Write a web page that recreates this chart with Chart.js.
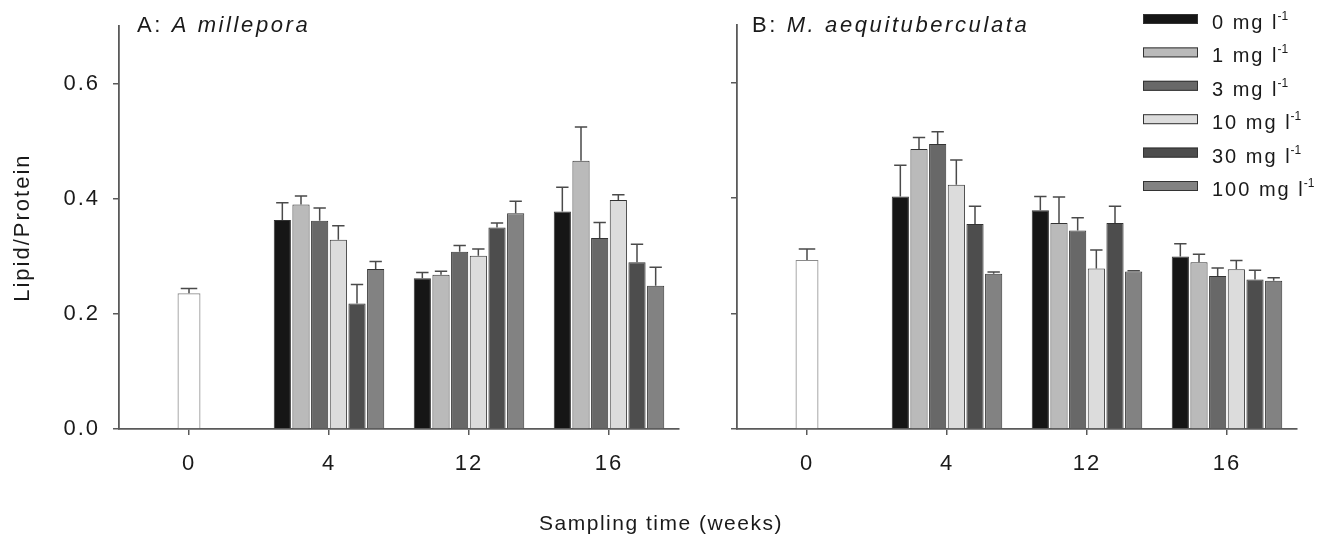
<!DOCTYPE html>
<html>
<head>
<meta charset="utf-8">
<script src="https://cdn.jsdelivr.net/npm/chart.js@4.4.1/dist/chart.umd.min.js"></script>
<style>
  body { margin: 0; background: #fff; width: 1326px; height: 550px; overflow: hidden; position: relative;
         font-family: 'Liberation Sans', Arial, sans-serif; }
  canvas { position: absolute; top: 0; }
  #cA { left: 0; }
  #cB { left: 700px; }
  #xtitle { position: absolute; left: 0; width: 1322px; top: 511px; text-align: center;
            font-size: 21px; line-height: 24px; letter-spacing: 1.5px; color: #1a1a1a; }
</style>
</head>
<body>
<canvas id="cA" width="700" height="550"></canvas>
<canvas id="cB" width="626" height="550"></canvas>
<div id="xtitle">Sampling time (weeks)</div>
<script>
// sampling weeks and sediment doses
const WEEKS = ['0', '4', '12', '16'];
const DOSES = ['0', '1', '3', '10', '30', '100'];
const DOSE_FILL = ['#161616', '#bababa', '#686868', '#dcdcdc', '#4d4d4d', '#828282'];
const Y_TICKS = [0, 0.2, 0.4, 0.6];

// A: A. millepora — lipid/protein means and upper SE (week 0 is the field control)
const A_CONTROL = [0.236];
const A_CONTROL_ERR = [0.008];
const A_W4 = [0.363, 0.390, 0.362, 0.329, 0.218, 0.278];
const A_W4_ERR = [0.030, 0.015, 0.022, 0.024, 0.033, 0.013];
const A_W12 = [0.262, 0.268, 0.308, 0.301, 0.350, 0.375];
const A_W12_ERR = [0.010, 0.006, 0.011, 0.012, 0.008, 0.021];
const A_W16 = [0.378, 0.466, 0.332, 0.398, 0.290, 0.249];
const A_W16_ERR = [0.042, 0.059, 0.027, 0.009, 0.031, 0.032];

// B: M. aequituberculata
const B_CONTROL = [0.293];
const B_CONTROL_ERR = [0.019];
const B_W4 = [0.403, 0.485, 0.494, 0.423, 0.355, 0.269];
const B_W4_ERR = [0.054, 0.020, 0.021, 0.043, 0.031, 0.003];
const B_W12 = [0.379, 0.357, 0.344, 0.278, 0.357, 0.273];
const B_W12_ERR = [0.024, 0.045, 0.022, 0.032, 0.029, 0.001];
const B_W16 = [0.299, 0.289, 0.265, 0.277, 0.259, 0.257];
const B_W16_ERR = [0.022, 0.014, 0.014, 0.015, 0.016, 0.005];

const FONT = "'Liberation Sans', Arial, sans-serif";
const INK = '#1a1a1a';
const AXIS = '#5a5a5a';

Chart.defaults.font.family = FONT;
Chart.defaults.font.size = 22;
Chart.defaults.color = INK;

function buildDatasets(control, controlErr, w4, w4e, w12, w12e, w16, w16e) {
  const sets = [{
    label: 'control',
    data: [control[0], null, null, null],
    err: [controlErr[0], null, null, null],
    backgroundColor: '#ffffff',
    borderColor: '#8a8a8a',
    borderWidth: 1.2,
    barPercentage: 0.205,
  }];
  DOSES.forEach((d, i) => {
    sets.push({
      label: d + ' mg l-1',
      data: [null, w4[i], w12[i], w16[i]],
      err: [null, w4e[i], w12e[i], w16e[i]],
      backgroundColor: DOSE_FILL[i],
      borderColor: '#333333',
      borderWidth: 1,
      barPercentage: 0.92,
    });
  });
  return sets;
}

// upward-only SE whiskers with a cap
const errorBars = {
  id: 'errorBars',
  afterDatasetsDraw(chart) {
    const ctx = chart.ctx;
    const y = chart.scales.y;
    ctx.save();
    ctx.strokeStyle = '#4a4a4a';
    ctx.lineWidth = 1.5;
    chart.data.datasets.forEach((ds, di) => {
      const meta = chart.getDatasetMeta(di);
      meta.data.forEach((bar, i) => {
        const v = ds.data[i], e = ds.err[i];
        if (v == null || e == null) return;
        const top = y.getPixelForValue(v + e);
        const cap = bar.width * 0.36;
        ctx.beginPath();
        ctx.moveTo(bar.x, bar.y);
        ctx.lineTo(bar.x, top);
        ctx.moveTo(bar.x - cap, top);
        ctx.lineTo(bar.x + cap, top);
        ctx.stroke();
      });
    });
    ctx.restore();
  }
};

// panel caption, species name in italics
const panelTitle = {
  id: 'panelTitle',
  beforeDraw(chart) { chart.ctx.letterSpacing = '2px'; },
  afterDraw(chart, args, opts) {
    const ctx = chart.ctx;
    ctx.save();
    ctx.letterSpacing = '2.6px';
    ctx.fillStyle = INK;
    ctx.textBaseline = 'alphabetic';
    ctx.font = '22px ' + FONT;
    ctx.fillText(opts.prefix, opts.x, 32);
    const w = ctx.measureText(opts.prefix).width;
    ctx.font = 'italic 22px ' + FONT;
    ctx.fillText(opts.species, opts.x + w, 32);
    ctx.restore();
  }
};

// dose legend with superscript units
const doseLegend = {
  id: 'doseLegend',
  afterDraw(chart, args, opts) {
    if (!opts.show) return;
    const ctx = chart.ctx;
    ctx.save();
    DOSES.forEach((d, i) => {
      const cy = 19 + i * 33.4;
      ctx.fillStyle = DOSE_FILL[i];
      ctx.fillRect(443, cy - 5, 55, 10);
      ctx.strokeStyle = '#333333';
      ctx.lineWidth = 1;
      ctx.strokeRect(443.5, cy - 4.5, 54, 9);
      ctx.fillStyle = INK;
      ctx.letterSpacing = '2px';
      ctx.font = '20px ' + FONT;
      ctx.textBaseline = 'alphabetic';
      const main = d + ' mg l';
      ctx.fillText(main, 512, cy + 10);
      const w = ctx.measureText(main).width;
      ctx.letterSpacing = '0px';
      ctx.font = '12px ' + FONT;
      ctx.fillText('-1', 512 + w - 1, cy + 1);
    });
    ctx.restore();
  }
};

function makeChart(id, datasets, opt) {
  return new Chart(document.getElementById(id), {
    type: 'bar',
    data: { labels: WEEKS, datasets },
    plugins: [errorBars, panelTitle, doseLegend],
    options: {
      responsive: false,
      animation: false,
      layout: { padding: { left: 0, right: opt.padRight, top: 25, bottom: 0 } },
      datasets: { bar: { skipNull: true, categoryPercentage: 0.8 } },
      plugins: {
        legend: { display: false },
        tooltip: { enabled: false },
        panelTitle: { prefix: opt.prefix, species: opt.species, x: opt.titleX },
        doseLegend: { show: opt.legend },
      },
      scales: {
        x: {
          type: 'category',
          offset: true,
          afterFit: s => { s.height = 121; },
          grid: { offset: false, drawOnChartArea: false, drawTicks: true, tickLength: 6, color: AXIS, lineWidth: 1.5 },
          border: { display: true, color: AXIS, width: 1.8 },
          ticks: { padding: 16, font: { size: 22 }, color: INK, maxRotation: 0 },
        },
        y: {
          min: 0,
          max: 0.7,
          afterFit: s => { s.width = opt.yWidth; },
          afterBuildTicks: s => { s.ticks = Y_TICKS.map(v => ({ value: v })); },
          grid: { drawOnChartArea: false, drawTicks: true, tickLength: 6, color: AXIS, lineWidth: 1.5 },
          border: { display: true, color: AXIS, width: 1.8 },
          ticks: { display: opt.yLabels, padding: 13, font: { size: 22 }, color: INK, callback: v => v.toFixed(1) },
          title: { display: opt.yLabels, text: 'Lipid/Protein', font: { size: 22 }, color: INK, padding: { top: 10, bottom: 0 } },
        },
      },
    },
  });
}

makeChart('cA', buildDatasets(A_CONTROL, A_CONTROL_ERR, A_W4, A_W4_ERR, A_W12, A_W12_ERR, A_W16, A_W16_ERR),
  { padRight: 21, yWidth: 119, yLabels: true, prefix: 'A: ', species: 'A millepora', titleX: 137, legend: false });

makeChart('cB', buildDatasets(B_CONTROL, B_CONTROL_ERR, B_W4, B_W4_ERR, B_W12, B_W12_ERR, B_W16, B_W16_ERR),
  { padRight: 29, yWidth: 37, yLabels: false, prefix: 'B: ', species: 'M. aequituberculata', titleX: 52, legend: true });
</script>
</body>
</html>
